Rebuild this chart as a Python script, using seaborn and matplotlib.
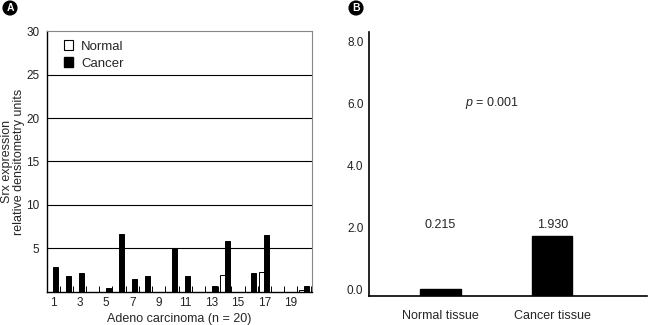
import numpy as np
import pandas as pd
import matplotlib
matplotlib.use("Agg")
import matplotlib.pyplot as plt
import matplotlib.transforms as mtransforms
from matplotlib.patches import Patch
import seaborn as sns

# ---- data ----
cases = [str(i) for i in range(1, 21)]
normal_vals = [0, 0, 0, 0, 0, 0, 0, 0, 0, 0, 0, 0, 0, 1.9, 0, 0, 2.3, 0, 0, 0.15]
cancer_vals = [2.8, 1.8, 2.1, 0, 0.4, 6.7, 1.5, 1.85, 0, 5.0, 1.8, 0, 0.6, 5.85, 0, 2.2, 6.5, 0, 0, 0.6]
a_yticks = [5, 10, 15, 20, 25, 30]
a_xticklabels = ["1", "3", "5", "7", "9", "11", "13", "15", "17", "19"]

tissues = ["Normal tissue", "Cancer tissue"]
tissue_means = [0.215, 1.930]
tissue_labels = ["0.215", "1.930"]
b_yticks = [0, 2, 4, 6, 8]
p_text = "= 0.001"

sns.set_theme(style="white")
plt.rcParams['font.family'] = ['Liberation Sans', 'DejaVu Sans']
plt.rcParams['mathtext.fontset'] = 'custom'
plt.rcParams['mathtext.it'] = 'Liberation Sans:italic'
plt.rcParams['mathtext.rm'] = 'Liberation Sans'

fig = plt.figure(figsize=(6.48, 3.25), dpi=100)

# ---------------- Panel A ----------------
axA = fig.add_axes([0.0725, 0.1025, 0.409, 0.8012])
dfA = pd.DataFrame({
    "case": cases * 2,
    "value": normal_vals + cancer_vals,
    "type": ["Normal"] * 20 + ["Cancer"] * 20,
})
sns.barplot(data=dfA, x="case", y="value", hue="type", order=cases,
            hue_order=["Normal", "Cancer"], palette=["white", "black"],
            edgecolor="black", linewidth=0.7, width=0.76, ax=axA, legend=False)
axA.set_ylim(0, 30)
axA.set_xlim(-0.45, 19.6)
for y in a_yticks[:-1]:
    axA.axhline(y, color="black", lw=0.8, zorder=0)
axA.set_yticks(a_yticks)
axA.set_yticklabels([str(v) for v in a_yticks], fontsize=8.5, color="#222")
axA.set_xticks(list(range(0, 20, 2)))
axA.set_xticklabels(a_xticklabels, fontsize=8.5, color="#222")
axA.set_xticks([i + 0.5 for i in range(20)], minor=True)
axA.tick_params(axis="x", which="major", length=0, pad=4)
axA.tick_params(axis="x", which="minor", direction="in", length=4, width=0.7, color="black", bottom=True)
axA.tick_params(axis="y", length=0, pad=5.5)
axA.set_xlabel("Adeno carcinoma (n = 20)", fontsize=9, labelpad=3)
axA.set_ylabel("Srx expression\nrelative densitometry units", fontsize=9, linespacing=1.0,
               va="center")
axA.yaxis.set_label_coords(-0.13, 0.5)
for s in ["left", "bottom"]:
    axA.spines[s].set_color("black")
    axA.spines[s].set_linewidth(1.0)
for s in ["top", "right"]:
    axA.spines[s].set_color("#888888")
    axA.spines[s].set_linewidth(0.8)
handles = [Patch(facecolor="white", edgecolor="black", lw=0.8, label="Normal"),
           Patch(facecolor="black", edgecolor="black", label="Cancer")]
axA.legend(handles=handles, loc="upper left", bbox_to_anchor=(0.045, 0.985), frameon=False,
           fontsize=9.5, handlelength=0.7, handleheight=0.7, handletextpad=0.6,
           labelspacing=0.35, borderaxespad=0)

# ---------------- Panel B ----------------
axB = fig.add_axes([0.5694, 0.0902, 0.4296, 0.8123])
dfB = pd.DataFrame({"tissue": tissues, "value": tissue_means})
sns.barplot(data=dfB, x="tissue", y="value", color="black", edgecolor="black",
            width=0.36, ax=axB)
axB.set_ylim(0, 8.5)
axB.set_xlim(-0.64, 1.85)
axB.set_yticks(b_yticks)
axB.set_yticklabels([f"{v:.1f}" for v in b_yticks], fontsize=8.5, color="#222")
axB.tick_params(axis="y", length=0, pad=4)
axB.tick_params(axis="x", length=0, pad=10, labelsize=9)
shift = mtransforms.ScaledTranslation(0, 6 / 100, fig.dpi_scale_trans)
for lab in axB.get_yticklabels():
    lab.set_transform(lab.get_transform() + shift)
axB.set_xlabel("")
axB.set_ylabel("")
for s in ["top", "right"]:
    axB.spines[s].set_visible(False)
for s in ["left", "bottom"]:
    axB.spines[s].set_color("black")
    axB.spines[s].set_linewidth(1.2)
for i, lab in enumerate(tissue_labels):
    axB.text(i, 2.28, lab, ha="center", va="center", fontsize=9)
axB.text(0.46, 6.2, r"$p$ " + p_text, ha="center", va="center", fontsize=9)

# circled panel letters
for x, letter in [(10 / 648, "A"), (356 / 648, "B")]:
    fig.text(x, 1 - 8 / 325, letter, ha="center", va="center", color="white",
             fontsize=7.5, fontweight="bold",
             bbox=dict(boxstyle="circle,pad=0.18", fc="black", ec="black"))

fig.savefig("out.png", dpi=100)
